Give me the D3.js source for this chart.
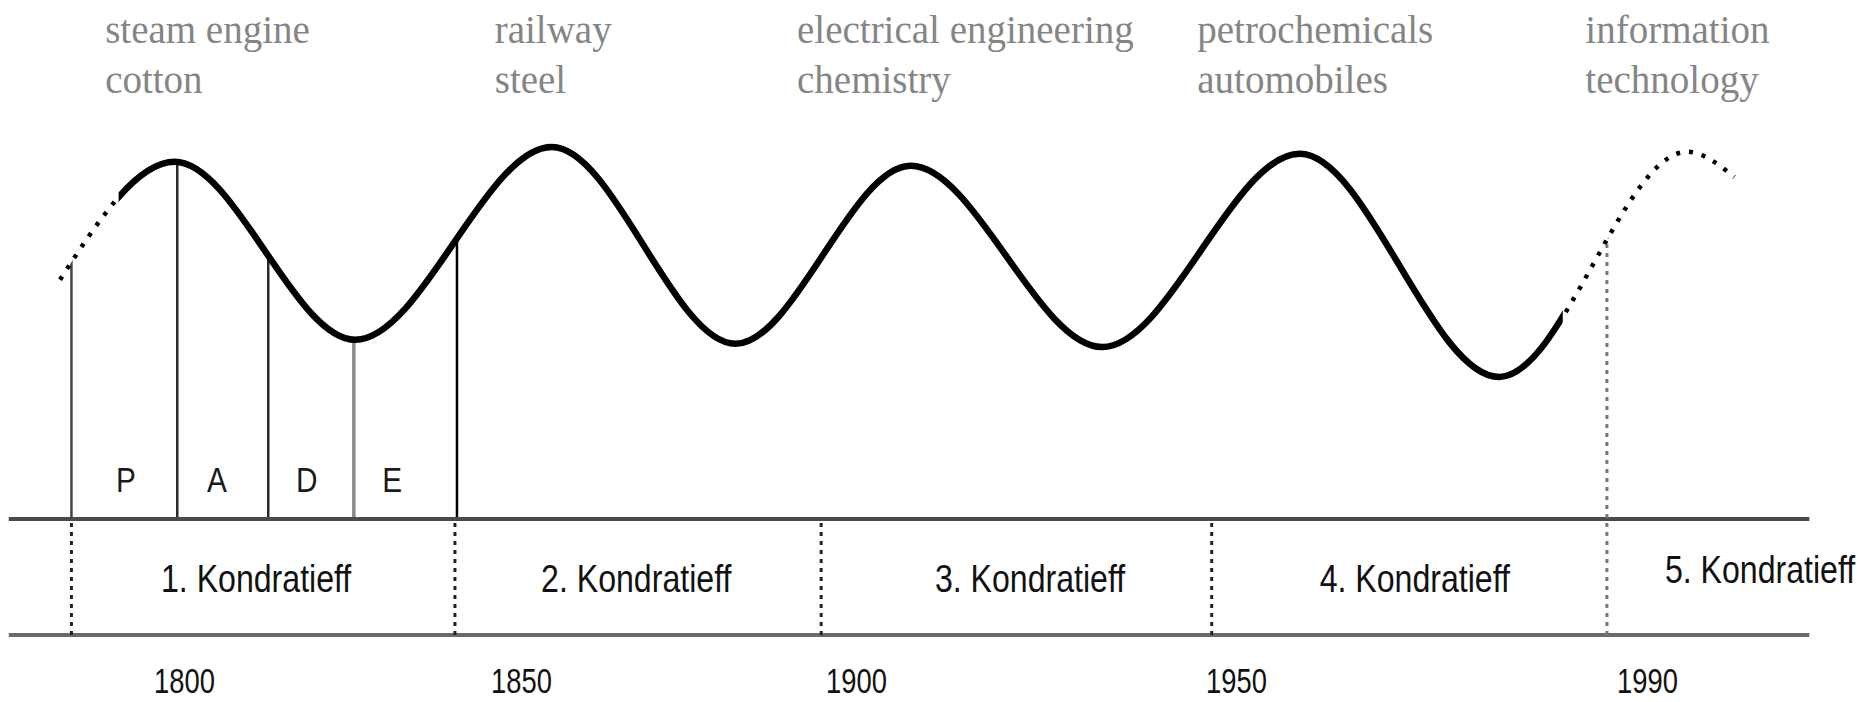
<!DOCTYPE html>
<html>
<head>
<meta charset="utf-8">
<script src="https://cdn.jsdelivr.net/npm/d3@7"></script>
<style>
	html, body { margin: 0; padding: 0; background: #fff; }
	svg { display: block; }
</style>
</head>
<body>
<div id="chart"></div>
<script>
// long wave: turning points (year, level)
const waveYears  = [1781.6, 1798.6, 1825.4, 1854.6, 1882, 1907.2, 1932.4, 1956.2, 1975.6, 1993.9, 1998.5];
const waveLevels = [5.98, 8.93, 4.48, 9.3, 4.38, 8.83, 4.3, 9.13, 3.55, 9.18, 8.55];
const solidSpan  = [1790.3, 1981.8];   // outside of this the wave is dotted

// phases of the first cycle
const phaseYears      = [1783.3, 1799, 1812.5, 1825.2, 1840.5];
const phaseLabels     = ["P", "A", "D", "E"];
const phaseLabelYears = [1791.4, 1804.9, 1818.2, 1830.9];

// Kondratieff cycles
const cycleBounds     = [1783.3, 1840.2, 1894.8, 1946.8, 1986.1];
const cycleLabels     = ["1. Kondratieff", "2. Kondratieff", "3. Kondratieff", "4. Kondratieff", "5. Kondratieff"];
const cycleLabelYears = [1810.7, 1867.2, 1922.9, 1967.4, 2001.0];

// leading sectors of each wave
const sectorLines = [
	["steam engine", "cotton"],
	["railway", "steel"],
	["electrical engineering", "chemistry"],
	["petrochemicals", "automobiles"],
	["information", "technology"]
];
const sectorYears = [1788.3, 1846.1, 1891.2, 1944.9, 1984.0];

const tickYears  = [1800, 1850, 1900, 1950, 1990];
const axisExtent = [1774, 2005.8];

let
	width = 1858,
	height = 702,
	bandBottom = 635,
	x = d3.scaleLinear().domain(tickYears).range([184, 521, 856, 1236, 1647]),
	y = d3.scaleLinear().domain([0, 10]).range([519, 119]),
	wave = waveYears.map((d, i) => ({year: d, level: waveLevels[i]})),
	line = d3.line()
		.x(d => x(d.year))
		.y(d => y(d.level))
		.curve(d3.curveMonotoneX),
	below = d3.area()
		.x(d => x(d.year))
		.y0(height)
		.y1(d => y(d.level))
		.curve(d3.curveMonotoneX),
	svg = d3.select("#chart")
		.append("svg")
		.attr("width", width)
		.attr("height", height)

let defs = svg.append("defs");
defs.append("clipPath").attr("id", "under-wave")
	.append("path").attr("d", below(wave));
defs.append("clipPath").attr("id", "solid-part")
	.append("rect")
	.attr("x", x(solidSpan[0])).attr("y", 0)
	.attr("width", x(solidSpan[1]) - x(solidSpan[0])).attr("height", height);
defs.append("clipPath").attr("id", "dotted-part")
	.selectAll("rect")
	.data([[0, x(solidSpan[0])], [x(solidSpan[1]), width]])
	.join("rect")
	.attr("x", d => d[0]).attr("y", 0)
	.attr("width", d => d[1] - d[0]).attr("height", height);

// sector names
svg.append("g")
	.attr("font-family", "'Liberation Serif', 'Times New Roman', serif")
	.attr("font-size", 39)
	.attr("fill", "#858585")
	.selectAll("text")
	.data(sectorLines)
	.join("text")
	.attr("x", (d, i) => x(sectorYears[i]))
	.selectAll("tspan")
	.data(d => d)
	.join("tspan")
	.attr("x", function(){ return this.parentNode.getAttribute("x"); })
	.attr("y", (d, i) => 43 + i * 50)
	.text(d => d);

// phase lines, cut off where they meet the wave
svg.append("g")
	.attr("clip-path", "url(#under-wave)")
	.selectAll("line")
	.data(phaseYears)
	.join("line")
	.attr("x1", d => x(d)).attr("x2", d => x(d))
	.attr("y1", y(0)).attr("y2", y(10))
	.attr("stroke", (d, i) => i === 3 ? "#8a8a8a" : i === 0 ? "#444" : i === 4 ? "#000" : "#2a2a2a")
	.attr("stroke-width", (d, i) => i === 3 ? 3.5 : 2.5);

svg.append("g")
	.attr("font-family", "'Liberation Sans', Arial, sans-serif")
	.attr("font-size", 35)
	.attr("fill", "#1a1a1a")
	.attr("text-anchor", "middle")
	.selectAll("text")
	.data(phaseLabels)
	.join("text")
	.attr("transform", (d, i) => `translate(${x(phaseLabelYears[i])},492) scale(0.85,1)`)
	.text(d => d);

// the wave
svg.append("path")
	.attr("clip-path", "url(#solid-part)")
	.attr("d", line(wave))
	.attr("fill", "none")
	.attr("stroke", "#000")
	.attr("stroke-width", 6.5)
	.attr("stroke-linejoin", "round");

svg.append("path")
	.attr("clip-path", "url(#dotted-part)")
	.attr("d", line(wave))
	.attr("fill", "none")
	.attr("stroke", "#000")
	.attr("stroke-width", 4.5)
	.attr("stroke-dasharray", "4,9");

// band with the cycles
svg.append("line")
	.attr("x1", x(axisExtent[0])).attr("x2", x(axisExtent[1]))
	.attr("y1", y(0)).attr("y2", y(0))
	.attr("stroke", "#4a4a4a")
	.attr("stroke-width", 4);

svg.append("line")
	.attr("x1", x(axisExtent[0])).attr("x2", x(axisExtent[1]))
	.attr("y1", bandBottom).attr("y2", bandBottom)
	.attr("stroke", "#6a6a6a")
	.attr("stroke-width", 4);

svg.append("g")
	.attr("clip-path", "url(#under-wave)")
	.selectAll("line")
	.data(cycleBounds)
	.join("line")
	.attr("x1", d => x(d)).attr("x2", d => x(d))
	.attr("y1", bandBottom)
	.attr("y2", (d, i) => i === cycleBounds.length - 1 ? y(10) : y(0))
	.attr("stroke", (d, i) => i === cycleBounds.length - 1 ? "#777" : "#222")
	.attr("stroke-width", 3)
	.attr("stroke-dasharray", "4,5");

svg.append("g")
	.attr("font-family", "'Liberation Sans', Arial, sans-serif")
	.attr("font-size", 38)
	.attr("fill", "#111")
	.attr("text-anchor", "middle")
	.selectAll("text")
	.data(cycleLabels)
	.join("text")
	.attr("transform", (d, i) => `translate(${x(cycleLabelYears[i])},${i === cycleLabels.length - 1 ? 583 : 592}) scale(0.845,1)`)
	.text(d => d);

// years
let yearAxis = svg.append("g")
	.attr("transform", "translate(0,693)")
	.call(d3.axisBottom(x).tickValues(tickYears).tickSize(0).tickFormat(d3.format("d")));
yearAxis.select(".domain").remove();
yearAxis.selectAll("text")
	.attr("y", 0)
	.attr("dy", null)
	.attr("fill", "#111")
	.attr("font-family", "'Liberation Sans', Arial, sans-serif")
	.attr("font-size", 36)
	.attr("transform", "scale(0.76,1)");
</script>
</body>
</html>
